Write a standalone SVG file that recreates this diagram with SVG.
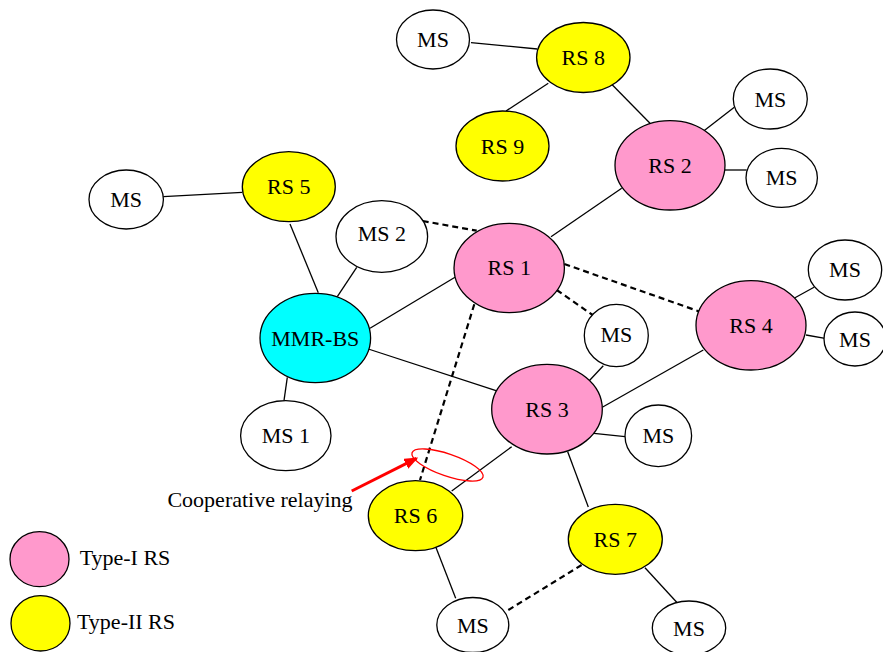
<svg xmlns="http://www.w3.org/2000/svg" width="883" height="652" viewBox="0 0 883 652">
<defs>
<marker id="arr" markerWidth="14" markerHeight="11" refX="12" refY="5.5" orient="auto" markerUnits="userSpaceOnUse" viewBox="0 0 14 11">
<path d="M0,0 L14,5.5 L0,11 z" fill="#FF0000"/>
</marker>
</defs>
<style>
ellipse{stroke:#000;stroke-width:1.3}
.ms{fill:#fff}
.t1{fill:#FF99CC}
.t2{fill:#FFFF00}
.bs{fill:#00FFFF}
text{font-family:"Liberation Serif","Times New Roman",serif;font-size:22px;fill:#000;text-anchor:middle}
.s line{stroke:#000;stroke-width:1.3}
.d line{stroke:#000;stroke-width:2.2;stroke-dasharray:6,4}
</style>
<rect width="883" height="652" fill="#fff"/>
<g id="connectors">
<g class="s">
<line x1="471" y1="42.7" x2="537.3" y2="49"/>
<line x1="548.3" y1="83.3" x2="506" y2="111"/>
<line x1="611.7" y1="84.3" x2="650" y2="123.3"/>
<line x1="702.7" y1="131.7" x2="734.3" y2="107.3"/>
<line x1="725" y1="170" x2="746.7" y2="170"/>
<line x1="621.7" y1="188.3" x2="551" y2="236.7"/>
<line x1="163.3" y1="196.7" x2="242.3" y2="192.3"/>
<line x1="290" y1="224" x2="318.3" y2="292.7"/>
<line x1="356.7" y1="267.3" x2="337.3" y2="296.7"/>
<line x1="370" y1="328.3" x2="455" y2="277.3"/>
<line x1="368.3" y1="349" x2="496" y2="390.7"/>
<line x1="287.3" y1="377.3" x2="284" y2="400.7"/>
<line x1="795" y1="297.7" x2="814" y2="287.3"/>
<line x1="806" y1="335" x2="825" y2="338.3"/>
<line x1="603.3" y1="365.7" x2="588.3" y2="381.7"/>
<line x1="602.3" y1="407.3" x2="703.3" y2="350"/>
<line x1="594" y1="433.3" x2="625" y2="436.7"/>
<line x1="511.7" y1="446.7" x2="451.7" y2="491"/>
<line x1="567.7" y1="451.7" x2="588.3" y2="507"/>
<line x1="435" y1="545" x2="455.7" y2="598.3"/>
<line x1="645" y1="567.7" x2="676.7" y2="602.3"/>
</g>
<g class="d">
<line x1="422.7" y1="221" x2="476.7" y2="230.7"/>
<line x1="564.3" y1="264" x2="700" y2="311.7"/>
<line x1="556.7" y1="290" x2="592.7" y2="315"/>
<line x1="474.3" y1="304.3" x2="420" y2="480"/>
<line x1="508.3" y1="610" x2="581.7" y2="565"/>
</g>
</g>
<g id="coop">
<ellipse cx="447.5" cy="465" rx="37.5" ry="11" transform="rotate(19 447.5 465)" style="fill:none;stroke:#FF0000;stroke-width:1.3"/>
<line x1="351.7" y1="491" x2="416.5" y2="458.4" stroke="#FF0000" stroke-width="3" marker-end="url(#arr)"/>
<text x="260" y="507">Cooperative relaying</text>
</g>
<g id="ms_top"><ellipse class="ms" cx="433" cy="39.5" rx="36.5" ry="29.5"/><text x="433" y="47">MS</text></g>
<g id="rs8"><ellipse class="t2" cx="583.3" cy="57.5" rx="46.7" ry="35"/><text x="583.3" y="65">RS 8</text></g>
<g id="rs9"><ellipse class="t2" cx="502.5" cy="146" rx="46.5" ry="35"/><text x="502.5" y="153.5">RS 9</text></g>
<g id="rs2"><ellipse class="t1" cx="670" cy="165.3" rx="55" ry="44.7"/><text x="670" y="173">RS 2</text></g>
<g id="ms_rs2a"><ellipse class="ms" cx="770.3" cy="99" rx="37" ry="30"/><text x="770.3" y="106.5">MS</text></g>
<g id="ms_rs2b"><ellipse class="ms" cx="781.7" cy="177.8" rx="35.7" ry="29.5"/><text x="781.7" y="185">MS</text></g>
<g id="ms_left"><ellipse class="ms" cx="126.2" cy="199.5" rx="37.2" ry="29.5"/><text x="126.2" y="207">MS</text></g>
<g id="rs5"><ellipse class="t2" cx="288.8" cy="186.7" rx="46.5" ry="35"/><text x="288.8" y="194">RS 5</text></g>
<g id="ms2"><ellipse class="ms" cx="381.8" cy="236.5" rx="45.8" ry="35.8"/><text x="381.8" y="241">MS 2</text></g>
<g id="mmr_bs"><ellipse class="bs" cx="315.3" cy="338" rx="55.3" ry="44.7"/><text x="315.3" y="345.5">MMR-BS</text></g>
<g id="ms1"><ellipse class="ms" cx="285.8" cy="435.7" rx="45.2" ry="35"/><text x="285.8" y="443">MS 1</text></g>
<g id="rs1"><ellipse class="t1" cx="509.2" cy="268" rx="55.2" ry="44.7"/><text x="509.2" y="274.5">RS 1</text></g>
<g id="rs4"><ellipse class="t1" cx="751" cy="325.3" rx="55" ry="44.7"/><text x="751" y="333">RS 4</text></g>
<g id="ms_rs1"><ellipse class="ms" cx="616.3" cy="335.5" rx="32" ry="31.2"/><text x="616.3" y="342">MS</text></g>
<g id="ms_rs4a"><ellipse class="ms" cx="845" cy="270" rx="36.7" ry="30"/><text x="845" y="277">MS</text></g>
<g id="ms_rs4b"><ellipse class="ms" cx="855" cy="339" rx="31" ry="27"/><text x="855" y="346.5">MS</text></g>
<g id="rs3"><ellipse class="t1" cx="547" cy="409.2" rx="55.3" ry="44.8"/><text x="547" y="417">RS 3</text></g>
<g id="ms_rs3"><ellipse class="ms" cx="658.3" cy="435.8" rx="33.3" ry="30.8"/><text x="658.3" y="443">MS</text></g>
<g id="rs6"><ellipse class="t2" cx="415.5" cy="515.7" rx="47.2" ry="35"/><text x="415.5" y="523">RS 6</text></g>
<g id="ms_rs6"><ellipse class="ms" cx="472.8" cy="625" rx="36" ry="27.5"/><text x="472.8" y="633">MS</text></g>
<g id="rs7"><ellipse class="t2" cx="615.3" cy="539.3" rx="47" ry="35"/><text x="615.3" y="546.5">RS 7</text></g>
<g id="ms_rs7"><ellipse class="ms" cx="689" cy="628" rx="36.7" ry="27"/><text x="689" y="636">MS</text></g>
<g id="legend_type1"><ellipse class="t1" cx="39.5" cy="559.2" rx="29.5" ry="27.5"/><text x="125" y="565">Type-I RS</text></g>
<g id="legend_type2"><ellipse class="t2" cx="40.5" cy="623.3" rx="29.5" ry="27.7"/><text x="126" y="629">Type-II RS</text></g>
</svg>
